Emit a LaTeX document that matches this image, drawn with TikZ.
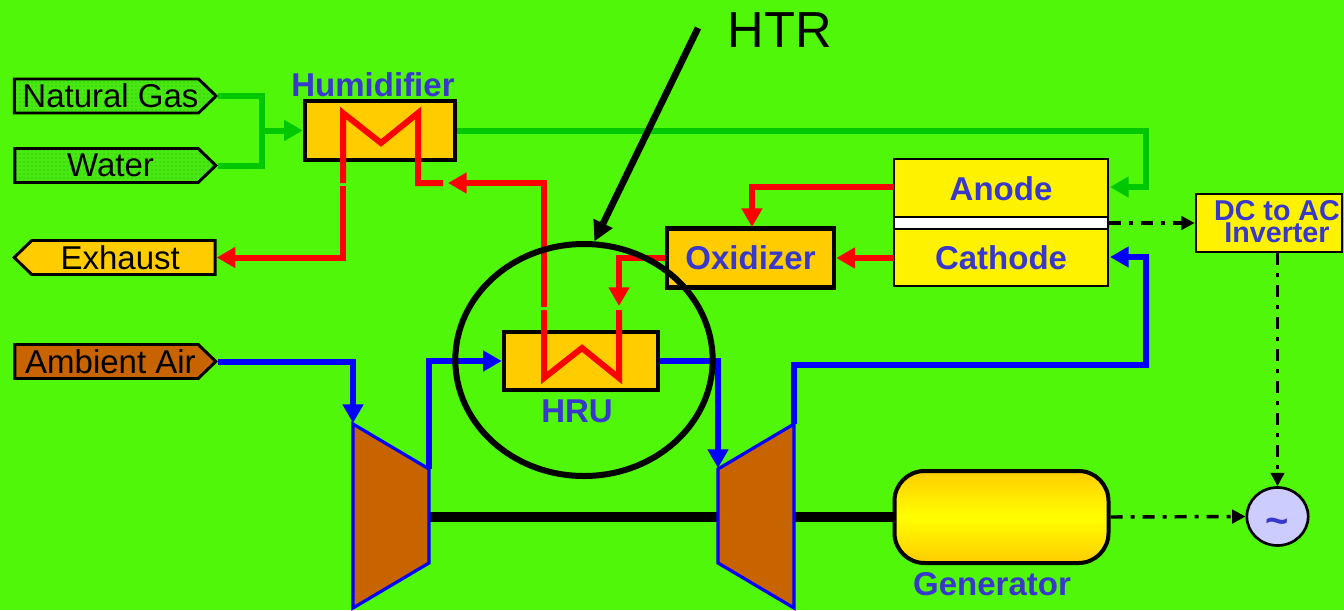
\documentclass[tikz,border=0pt]{standalone}
\usepackage{fontspec}
\setmainfont{Liberation Sans}
\usetikzlibrary{arrows.meta,shapes.geometric,shapes.symbols,patterns}
\definecolor{bgc}{HTML}{50F708}
\definecolor{txtb}{HTML}{3838CC}
\definecolor{amber}{HTML}{FFCC00}
\definecolor{brownf}{HTML}{C86400}
\definecolor{gline}{HTML}{00C800}
\definecolor{gfill}{HTML}{48E810}
\definecolor{gdot}{HTML}{18B818}
\definecolor{lav}{HTML}{CCCCFF}
\tikzset{
  x=0.75pt,y=-0.75pt,
  sz/.style 2 args={minimum width=#1*0.75pt,minimum height=#2*0.75pt,inner sep=0pt},
  plain/.style={font=\fontsize{24.75pt}{26pt}\selectfont,text=black},
  bluet/.style={font=\fontsize{24.75pt}{26pt}\selectfont\bfseries,text=txtb},
  box/.style={draw=black,line width=3.4pt,fill=amber},
  cellbox/.style={draw=black,line width=2pt,fill=yellow},
  sig/.style={shape=signal,signal pointer angle=88,draw=black,line width=2.2pt,plain},
  inlet/.style={sig,signal to=east,preaction={fill=gfill},pattern=dots,pattern color=gdot},
  flow/.style={line width=4.5pt,-{Triangle[length=14pt,width=15pt]},miter limit=10},
  gflow/.style={flow,draw=gline},
  bflow/.style={flow,draw=blue},
  rflow/.style={flow,draw=red},
  rline/.style={line width=4.5pt,draw=red,-},
  gline2/.style={line width=4.5pt,draw=gline,-},
  elec/.style={line width=2.6pt,draw=black,dash pattern=on 9pt off 6pt on 3pt off 6pt,-{Triangle[length=10pt,width=10pt]}},
  machine/.style={draw=blue,line width=2.4pt,fill=brownf,line join=miter},
  shaft/.style={line width=8.2pt,draw=black},
}
\begin{document}
\begin{tikzpicture}
\useasboundingbox (0,0) rectangle (1344,610);
\fill[bgc] (0,0) rectangle (1344,610);

% inlet / outlet tags
\node[inlet,sz={201}{34}] (ng) at (106.5,96) {\hspace*{6pt}Natural Gas};
\node[inlet,sz={201}{34}] (water) at (106.5,165.5) {\hspace*{6pt}Water};
\node[sig,signal to=west,fill=amber,sz={201}{34}] (exhaust) at (123.5,257.5) {Exhaust\hspace*{5pt}};
\node[sig,signal to=east,fill=brownf,sz={201}{34}] (air) at (106.5,361.5) {\hspace*{6pt}Ambient Air};

% boxes
\node[box,sz={150}{59}] (hum) at (380,130.5) {};
\node[bluet] (humlabel) at (373,85) {Humidifier};
\node[box,sz={154}{58}] (hru) at (581,361) {};
\node[bluet] (hrulabel) at (577,411) {HRU};
\node[box,sz={167}{59},bluet] (oxi) at (750.5,258) {Oxidizer};
\node[cellbox,sz={214}{58},bluet] (anode) at (1001,188) {};
\node[bluet] (anodelabel) at (1001,189) {Anode};
\node[draw=black,line width=2pt,fill=white,sz={214}{12}] (membrane) at (1001,223) {};
\node[cellbox,sz={214}{57},bluet] (cathode) at (1001,257.5) {Cathode};
\node[cellbox,sz={146}{58}] (inv) at (1269,223) {};
\node[font=\fontsize{21.5pt}{16.5pt}\selectfont\bfseries,text=txtb,align=center,inner sep=0pt] (invlabel) at (1277,222) {DC to AC\\Inverter};

% machines
\coordinate (c1) at (353,424); \coordinate (c2) at (429,469);
\coordinate (c3) at (429,563); \coordinate (c4) at (353,608);
\coordinate (t1) at (718,469); \coordinate (t2) at (794,424);
\coordinate (t3) at (794,608); \coordinate (t4) at (718,563);
\coordinate (cin) at (353,423);
\coordinate (tin) at (718,468);

% generator and alternator
\node[draw=black,line width=3pt,rounded corners=30*0.75pt,top color=amber,bottom color=amber,middle color=yellow,sz={214}{92}] (gen) at (1001.5,517) {};
\node[bluet] (genlabel) at (992,584) {Generator};
\node[ellipse,draw=black,line width=2pt,fill=lav,minimum width=46pt,minimum height=43.5pt,inner sep=0pt] (ac) at (1277.5,516.5) {};
\node[font=\fontsize{30pt}{30pt}\selectfont\bfseries,text=txtb,inner sep=0pt] (aclabel) at (1277,526) {\char`\~};

% shaft
\draw[shaft] (c2 |- gen.west) -- (t1 |- gen.west);
\draw[shaft] (t2 |- gen.west) -- (gen.west);

% gas lines
\coordinate (j) at (262,130.5);
\draw[gline2,line join=miter] (ng.east) -| (j) |- (water.east);
\draw[gflow] (j) -- (hum.west);
\coordinate (humout) at (hum.east);
\coordinate (anin) at (1110,187);
\draw[gflow] (humout) -| (1146,187) -- (anin);

% red lines
\coordinate (m1) at (343,113); \coordinate (m2) at (381,143);
\coordinate (m3) at (418,113); \coordinate (m4) at (418,183);
\coordinate (m5) at (443,183); \coordinate (hl) at (343,183);
\coordinate (hl2) at (343,186); \coordinate (hin) at (448,183);
\draw[rline,line join=miter] (hl) -- (m1) -- (m2) -- (m3) -- (m4) -- (m5);
\draw[rflow] (hl2) |- (exhaust.east);
\coordinate (w1) at (544,310); \coordinate (w2) at (544,378);
\coordinate (w3) at (582,348); \coordinate (w4) at (619,378);
\coordinate (w5) at (619,310); \coordinate (wtop) at (544,307);
\draw[rline,line join=miter] (w1) -- (w2) -- (w3) -- (w4) -- (w5);
\draw[rflow] (wtop) |- (hin);
\coordinate (wtip) at (619,306);
\draw[rflow] (oxi.west) -| (wtip);
\coordinate (anout) at (894,187);
\coordinate (catout) at (894,258);
\coordinate (oxtop) at (752,227);
\draw[rflow] (anout) -| (oxtop);
\draw[rflow] (catout) -- (oxi.east);

% machines over lines
\draw[machine] (c1) -- (c2) -- (c3) -- (c4) -- cycle;
\draw[machine] (t1) -- (t2) -- (t3) -- (t4) -- cycle;

% air lines
\draw[bflow] (air.east) -| (cin);
\draw[bflow] (c2) |- (hru.west);
\draw[bflow] (hru.east) -| (tin);
\coordinate (catin) at (1110,257);
\coordinate (tout) at (794,365);
\draw[bflow] (t2) -- (tout) -| (1146,257) -- (catin);

% electric lines
\coordinate (memr) at (membrane.east);
\draw[elec] (memr) -- (inv.west);
\draw[elec] (inv.south -| ac.north) -- (ac.north);
\draw[elec] (gen.east) -- (ac.west);

% HTR callout
\node[ellipse,draw=black,line width=4.5pt,minimum width=193pt,minimum height=174pt,inner sep=0pt] (htr) at (584,360) {};
\node[font=\fontsize{38pt}{40pt}\selectfont,text=black] (htrlabel) at (780,30) {HTR};
\coordinate (tail) at (698,28);
\draw[line width=5pt,-{Triangle[length=15pt,width=15pt]}] (tail) -- (htr.85.6);
\end{tikzpicture}
\end{document}
